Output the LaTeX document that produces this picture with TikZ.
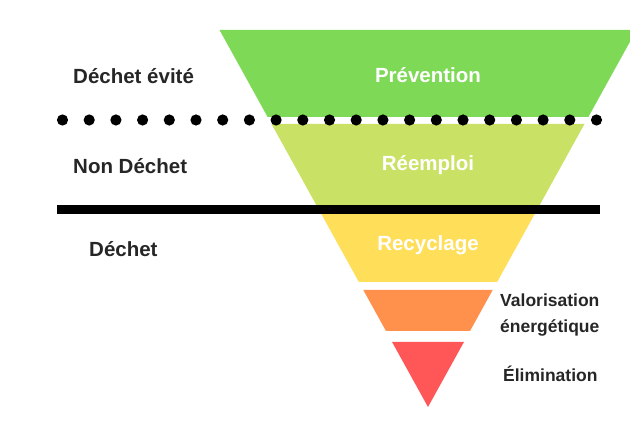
\documentclass[tikz,border=0pt]{standalone}
\usepackage{fontspec}
\setmainfont{Liberation Sans}
\definecolor{cgreen}{HTML}{7ED957}
\definecolor{clime}{HTML}{C9E265}
\definecolor{cyellow}{HTML}{FFDE59}
\definecolor{corange}{HTML}{FF914D}
\definecolor{cred}{HTML}{FF5757}
\begin{document}
\begin{tikzpicture}[x=1pt,y=-1pt,
  bandlabel/.style={text=white,font=\fontsize{20.5}{24}\selectfont\bfseries,inner sep=0pt},
  sidelabel/.style={text=black!85,font=\fontsize{20.5}{24}\selectfont\bfseries,anchor=west,inner sep=0pt},
  rightlabel/.style={text=black!85,font=\fontsize{17.5}{26}\selectfont\bfseries,anchor=west,inner sep=0pt,align=left}]
\useasboundingbox (0,0) rectangle (630,430);
\begin{scope}
\clip (0,0) rectangle (630,430);
% half width w(y) = 0.553*(407-y), centre x = 428
\def\cx{428}
\def\band#1#2#3{%
  \pgfmathsetmacro\wa{0.553*(407-#1)}%
  \pgfmathsetmacro\wb{0.553*(407-#2)}%
  \fill[#3] (\cx-\wa,#1) -- (\cx+\wa,#1) -- (\cx+\wb,#2) -- (\cx-\wb,#2) -- cycle;}
\band{30}{117}{cgreen}
\band{124}{206}{clime}
\band{206}{282}{cyellow}
\band{290}{331}{corange}
\band{342}{407}{cred}
\end{scope}
% dotted separator
\foreach \i in {0,...,20}
  \fill[black] (62.5+\i*26.7,120) circle (5.6);
% solid separator
\fill[black] (57,205) rectangle (600,214.5);
% band labels
\node[bandlabel] (prev) at (428,75) {Prévention};
\node[bandlabel] (reem) at (428,165) {Réemploi};
\node[bandlabel] (recy) at (428,245) {Recyclage};
% left labels
\node[sidelabel] (evite) at (73,76) {Déchet évité};
\node[sidelabel] (non) at (73,166) {Non Déchet};
\node[sidelabel] (dech) at (89,249) {Déchet};
% right labels
\node[rightlabel] (valo) at (500,315) {Valorisation\\énergétique};
\node[rightlabel] (elim) at (503,374) {Élimination};
\end{tikzpicture}
\end{document}
